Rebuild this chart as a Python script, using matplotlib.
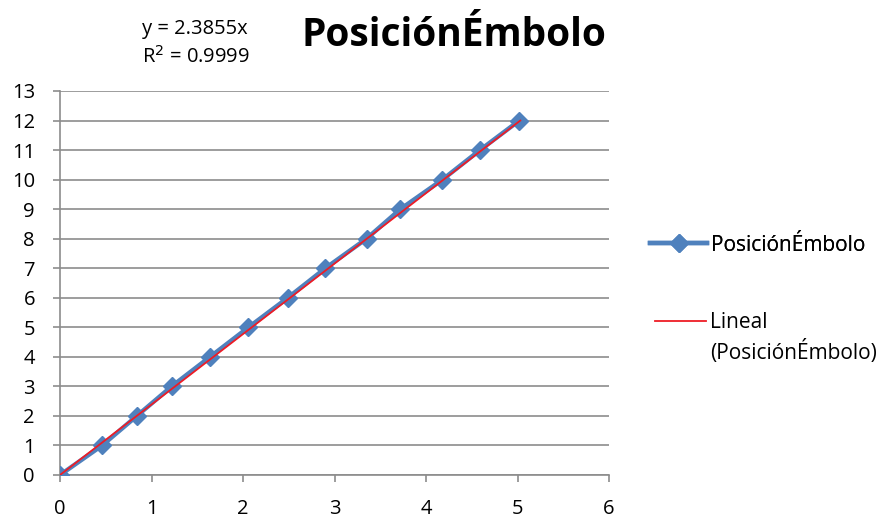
import matplotlib
matplotlib.use("Agg")
import matplotlib.pyplot as plt
import numpy as np
from matplotlib.lines import Line2D

plt.rcParams['font.family'] = ['Open Sans', 'DejaVu Sans']

# Data
x_vals = [0.0, 0.46, 0.84, 1.22, 1.64, 2.06, 2.49, 2.90, 3.35, 3.72, 4.18, 4.59, 5.02]
y_vals = [0, 1, 2, 3, 4, 5, 6, 7, 8, 9, 10, 11, 12]
slope = 2.3855
r2 = 0.9999
series_name = "PosiciónÉmbolo"
trend_name_1 = "Lineal"
trend_name_2 = "(PosiciónÉmbolo)"
x_ticks = [0, 1, 2, 3, 4, 5, 6]
y_ticks = list(range(0, 14))

fig = plt.figure(figsize=(8.94, 5.19), dpi=100)
ax = fig.add_axes([60/894, 44/519, 549/894, 384/519])

blue = '#4F81BD'
red = '#EE1C25'
ax.plot(x_vals, y_vals, color=blue, lw=3.2, marker='D', markersize=9,
        markeredgecolor=blue, markerfacecolor=blue, zorder=3)
xt = np.array([0, max(y_vals) / slope])
ax.plot(xt, slope * xt, color=red, lw=1.3, zorder=4)

ax.set_xlim(0, 6)
ax.set_ylim(0, 13)
ax.set_xticks(x_ticks)
ax.set_yticks(y_ticks)
ax.yaxis.grid(True, color='#8C8C8C', lw=1.2)
ax.set_axisbelow(True)
for s in ['top', 'right']:
    ax.spines[s].set_visible(False)
for s in ['left', 'bottom']:
    ax.spines[s].set_color('#8C8C8C')
    ax.spines[s].set_linewidth(1.2)
ax.tick_params(axis='both', direction='out', length=5, color='#8C8C8C', width=1.2,
               labelsize=14.5, labelcolor='black')
ax.tick_params(axis='x', pad=12)
ax.tick_params(axis='y', pad=13)

fig.text(454/894, 1 - 36/519, "PosiciónÉmbolo", ha='center', va='center',
         fontsize=28, fontweight='bold')
fig.text(142/894, 1 - 29/519, f"y = {slope}x", ha='left', va='center', fontsize=14.5)
fig.text(142/894, 1 - 57/519, f"R$^2$ = {r2}", ha='left', va='center', fontsize=14.5)

common = dict(frameon=False, fontsize=15, handletextpad=0.2,
              borderaxespad=0, borderpad=0)
leg1 = fig.legend([Line2D([], [], color=blue, lw=3.2, marker='D', markersize=9)],
                  [series_name], loc='center left', handlelength=2.75,
                  bbox_to_anchor=(650/894, 1 - 245/519), **common)
leg2 = fig.legend([Line2D([], [], color=red, lw=1.3),
                   Line2D([], [], color='none', lw=0)],
                  [trend_name_1, trend_name_2], loc='center left', handlelength=2.45,
                  bbox_to_anchor=(655/894, 1 - 338/519), labelspacing=0.3, **common)
fig.add_artist(leg1)

fig.savefig('out.png', dpi=100)
